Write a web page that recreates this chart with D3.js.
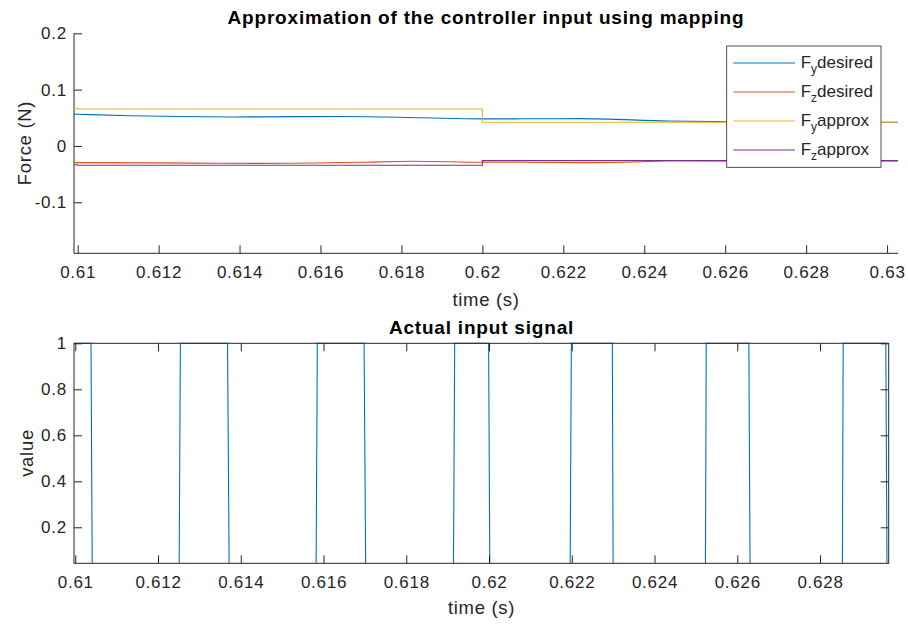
<!DOCTYPE html>
<html>
<head>
<meta charset="utf-8">
<script src="https://cdnjs.cloudflare.com/ajax/libs/d3/7.8.5/d3.min.js"></script>
<style>
  body { margin: 0; background: #fff; }
  svg { font-family: "Liberation Sans", Arial, Helvetica, sans-serif; }
</style>
</head>
<body>
<script>
// ---- data ----
// force plot: smooth desired curves (time, value)
var fyDesT = [0.60991, 0.6100, 0.6113, 0.6138, 0.6155, 0.6166, 0.6185, 0.6200, 0.6224, 0.6246, 0.6261, 0.6279, 0.63027];
var fyDesV = [0.0565, 0.0563, 0.0535, 0.0515, 0.0520, 0.0522, 0.0500, 0.0480, 0.0485, 0.0444, 0.0430, 0.0420, 0.0420];
var fzDesT = [0.60991, 0.6100, 0.6130, 0.6145, 0.6170, 0.6183, 0.6200, 0.6210, 0.6225, 0.6240, 0.6246, 0.6270, 0.63027];
var fzDesV = [-0.0296, -0.0296, -0.0305, -0.0310, -0.0290, -0.0272, -0.0290, -0.0290, -0.0296, -0.0280, -0.0262, -0.0270, -0.0266];
// approximations are piecewise constant (step at each update time)
var approxT = [0.60991, 0.6100, 0.6200, 0.63027];
var fyApxV = [0.0670, 0.0657, 0.0420, 0.0420];
var fzApxV = [-0.0335, -0.0343, -0.0261, -0.0261];

var seriesNames = [["F", "y", "desired"], ["F", "z", "desired"], ["F", "y", "approx"], ["F", "z", "approx"]];
var seriesColors = ["#0072BD", "#D95319", "#EDB120", "#7E2F8E"];

// input signal plot (time, value)
var sigT = [0.60997, 0.61038, 0.61041, 0.61251, 0.61254, 0.61368, 0.61372, 0.61582, 0.61585,
            0.61698, 0.61702, 0.61914, 0.61917, 0.61999, 0.62002, 0.62196, 0.62199, 0.62298,
            0.62300, 0.62523, 0.62525, 0.62628, 0.62631, 0.62854, 0.62856, 0.62959, 0.62962, 0.62966];
var sigV = [1, 1, 0, 0, 1, 1, 0, 0, 1, 1, 0, 0, 1, 1, 0, 0, 1, 1, 0, 0, 1, 1, 0, 0, 1, 1, 0, 0];

var topXTicks = [0.61, 0.612, 0.614, 0.616, 0.618, 0.62, 0.622, 0.624, 0.626, 0.628, 0.63];
var topYTicks = [-0.1, 0, 0.1, 0.2];
var botXTicks = [0.61, 0.612, 0.614, 0.616, 0.618, 0.62, 0.622, 0.624, 0.626, 0.628];
var botYTicks = [0.2, 0.4, 0.6, 0.8, 1];

var axisColor = '#262626';
var tickFont = 17, labelFont = 18.5, titleFont = 19;

var svg = d3.select("body").append("svg")
  .attr("width", 908)
  .attr("height", 626);

function zip(ts, vs) {
  return ts.map(function(t, i) { return [t, vs[i]]; });
}

// plain hyphen for negatives, like the original
function tickFmt(d) { return d3.format("~g")(d).replace("\u2212", "-"); }

function styleAxis(g) {
  g.select(".domain").remove();
  g.selectAll(".tick line").attr("stroke", axisColor);
  g.selectAll(".tick text").attr("fill", axisColor)
    .style("font-size", tickFont + "px")
    .style("letter-spacing", "0.75px");
}

function label(g, txt, x, y, rot) {
  return g.append("text")
    .attr("transform", "translate(" + x + "," + y + ")" + (rot ? " rotate(-90)" : ""))
    .attr("text-anchor", "middle")
    .style("font-size", labelFont + "px")
    .style("letter-spacing", "0.7px")
    .attr("fill", axisColor)
    .text(txt);
}

function title(g, txt, x, y) {
  return g.append("text")
    .attr("x", x).attr("y", y)
    .attr("text-anchor", "middle")
    .style("font-weight", "bold")
    .style("font-size", titleFont + "px")
    .style("letter-spacing", "0.8px")
    .attr("fill", "#000")
    .text(txt);
}

//===================//
// Top plot: forces  //
//===================//
var x1 = d3.scaleLinear().domain([0.609909, 0.63027]).range([74, 898]);
var y1 = d3.scaleLinear().domain([-0.1906, 0.2]).range([253.3, 33.3]);

var topG = svg.append("g");

topG.append("g")
  .attr("transform", "translate(0,253.3)")
  .call(d3.axisBottom(x1).tickValues(topXTicks).tickFormat(tickFmt).tickSize(-8).tickSizeOuter(0).tickPadding(13))
  .call(styleAxis);

topG.append("g")
  .attr("transform", "translate(74,0)")
  .call(d3.axisLeft(y1).tickValues(topYTicks).tickFormat(tickFmt).tickSize(-8).tickSizeOuter(0).tickPadding(7))
  .call(styleAxis);

// axis lines (no box on this one)
topG.append("line").attr("x1", 74).attr("x2", 74).attr("y1", 33.3).attr("y2", 253.3)
  .attr("stroke", axisColor);
topG.append("line").attr("x1", 74).attr("x2", 898).attr("y1", 253.3).attr("y2", 253.3)
  .attr("stroke", axisColor);

var smooth = d3.line().x(function(d) { return x1(d[0]); }).y(function(d) { return y1(d[1]); })
  .curve(d3.curveMonotoneX);
var step = d3.line().x(function(d) { return x1(d[0]); }).y(function(d) { return y1(d[1]); })
  .curve(d3.curveStepAfter);

var topLines = [
  { d: zip(fyDesT, fyDesV), gen: smooth },
  { d: zip(fzDesT, fzDesV), gen: smooth },
  { d: zip(approxT, fyApxV), gen: step },
  { d: zip(approxT, fzApxV), gen: step }
];

topLines.forEach(function(s, i) {
  topG.append("path")
    .attr("d", s.gen(s.d))
    .attr("fill", "none")
    .attr("stroke", seriesColors[i])
    .attr("stroke-width", 1.1);
});

title(topG, "Approximation of the controller input using mapping", 486, 24);
label(topG, "time (s)", 486, 306, false);
label(topG, "Force (N)", 31, 143, true);

// Legend
var legend = topG.append("g");
legend.append("rect")
  .attr("x", 726.7).attr("y", 46)
  .attr("width", 154.3).attr("height", 121.3)
  .attr("fill", "#fff")
  .attr("stroke", axisColor)
  .attr("stroke-width", 0.8);

seriesNames.forEach(function(n, i) {
  var ly = 63 + i * 29;
  legend.append("line")
    .attr("x1", 733.3).attr("x2", 795)
    .attr("y1", ly).attr("y2", ly)
    .attr("stroke", seriesColors[i]);
  var t = legend.append("text")
    .attr("x", 800.7).attr("y", ly + 5)
    .style("font-size", "17px").attr("fill", axisColor);
  t.append("tspan").text(n[0]);
  t.append("tspan").attr("dy", 5).style("font-size", "12px").text(n[1]);
  t.append("tspan").attr("dy", -5).text(n[2]);
});

//========================//
// Bottom plot: the input //
//========================//
var x2 = d3.scaleLinear().domain([0.609969, 0.62966]).range([74, 888.7]);
var y2 = d3.scaleLinear().domain([0.0435, 1]).range([563.3, 343.3]);

var bot = svg.append("g");

svg.append("clipPath").attr("id", "botClip")
  .append("rect")
  .attr("x", 74).attr("y", 342)
  .attr("width", 888.7 - 74).attr("height", 563.3 - 342);

bot.append("path")
  .attr("d", d3.line().x(function(d) { return x2(d[0]); }).y(function(d) { return y2(d[1]); })(zip(sigT, sigV)))
  .attr("fill", "none")
  .attr("stroke", seriesColors[0])
  .attr("stroke-width", 1.1)
  .attr("clip-path", "url(#botClip)");

bot.append("g")
  .attr("transform", "translate(0,563.3)")
  .call(d3.axisBottom(x2).tickValues(botXTicks).tickFormat(tickFmt).tickSize(-8).tickSizeOuter(0).tickPadding(13))
  .call(styleAxis);

bot.append("g")
  .attr("transform", "translate(0,343.3)")
  .call(d3.axisTop(x2).tickValues(botXTicks).tickFormat("").tickSize(-8).tickSizeOuter(0))
  .call(styleAxis);

bot.append("g")
  .attr("transform", "translate(74,0)")
  .call(d3.axisLeft(y2).tickValues(botYTicks).tickFormat(tickFmt).tickSize(-8).tickSizeOuter(0).tickPadding(7))
  .call(styleAxis);

bot.append("g")
  .attr("transform", "translate(888.7,0)")
  .call(d3.axisRight(y2).tickValues(botYTicks).tickFormat("").tickSize(-8).tickSizeOuter(0))
  .call(styleAxis);

// box
bot.append("rect")
  .attr("x", 74).attr("y", 343.3)
  .attr("width", 888.7 - 74).attr("height", 220)
  .attr("fill", "none")
  .attr("stroke", axisColor);

title(bot, "Actual input signal", 481.5, 334);
label(bot, "time (s)", 481.5, 614, false);
label(bot, "value", 33, 453, true);
</script>
</body>
</html>
